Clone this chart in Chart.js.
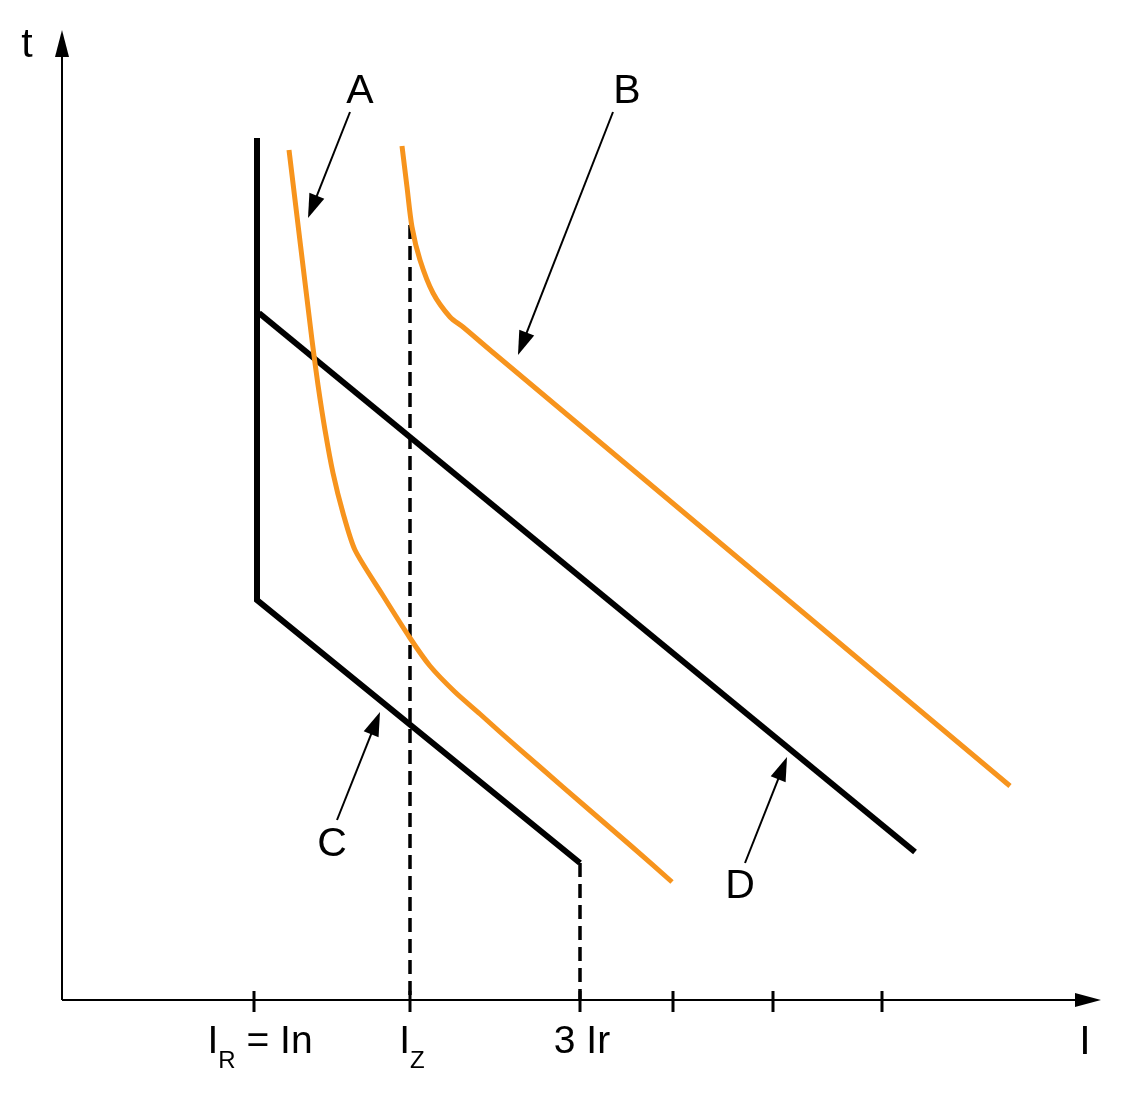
<!DOCTYPE html>
<html>
<head>
<meta charset="UTF-8">
<title>Tripping curves</title>
<script src="https://cdn.jsdelivr.net/npm/chart.js"></script>
<style>
  html, body { margin: 0; padding: 0; background: #fff; }
  #wrap { width: 1122px; height: 1104px; }
</style>
</head>
<body>
<div id="wrap"><canvas id="chart" width="1122" height="1104"></canvas></div>
<script>
// values (x = current, y = time, arbitrary units)
var curveA = [[227,850],[250,660],[256,615],[263,570],[271,527],[281,487],[293,450],[320,406],[348,362],[368,334],[393,308],[418,286],[438,268],[478,233],[524,193],[568,155],[610,118]];
var curveB = [[340,854],[345,813],[350,773],[358,740],[371,707],[388,683],[401,673],[428,650],[558,541],[688,432],[818,323],[948,214]];
var curveC = [[195,862],[195,400],[518,137]];
var curveD = [[197,687],[853,148]];
var dashIz = [[348,775],[348,0]];
var dash3Ir = [[518,137],[518,0]];

var tickValues = [192, 348, 518, 611, 711, 820];
var tickLabels = [
  [['I'], ['R', 'sub'], [' = In']],
  [['I'], ['Z', 'sub']],
  [['3 Ir']],
  [], [], []
];

// annotation letters: label position, arrow start, arrow tip
var noteLabels = ['A', 'B', 'C', 'D'];
var notePos   = [[298,910],[565,910],[270,157],[678,115]];
var noteFrom  = [[288,888],[551,888],[275,180],[683,137]];
var noteTo    = [[246,782],[456,645],[318,288],[725,243]];

var xMax = 1038, yMax = 970;
var orange = '#f7941d';

function pts(arr) {
  return arr.map(function (p) { return { x: p[0], y: p[1] }; });
}

function arrowHead(ctx, from, to, len, half) {
  var dx = to[0] - from[0], dy = to[1] - from[1];
  var d = Math.sqrt(dx * dx + dy * dy);
  var ux = dx / d, uy = dy / d;
  var bx = to[0] - ux * len, by = to[1] - uy * len;
  ctx.beginPath();
  ctx.moveTo(to[0], to[1]);
  ctx.lineTo(bx - uy * half, by + ux * half);
  ctx.lineTo(bx + uy * half, by - ux * half);
  ctx.closePath();
  ctx.fill();
}

var drawing = {
  id: 'drawing',
  beforeDatasetsDraw: function (chart) {
    var ctx = chart.ctx, sx = chart.scales.x, sy = chart.scales.y;
    var px = function (p) { return [sx.getPixelForValue(p[0]), sy.getPixelForValue(p[1])]; };
    var o = px([0, 0]), xe = px([xMax, 0]), ye = px([0, yMax]);
    ctx.save();
    ctx.strokeStyle = '#000';
    ctx.fillStyle = '#000';
    // axes
    ctx.lineWidth = 2;
    ctx.beginPath();
    ctx.moveTo(o[0], o[1]); ctx.lineTo(xe[0] - 20, xe[1]);
    ctx.moveTo(o[0], o[1]); ctx.lineTo(ye[0], ye[1] + 20);
    ctx.stroke();
    arrowHead(ctx, o, [xe[0] + 1, xe[1]], 26, 7);
    arrowHead(ctx, o, ye, 27, 7);
    // ticks
    ctx.lineWidth = 3;
    tickValues.forEach(function (v) {
      var x = sx.getPixelForValue(v);
      ctx.beginPath();
      ctx.moveTo(x, o[1] - 9); ctx.lineTo(x, o[1] + 12);
      ctx.stroke();
    });
    // tick labels (with subscripts)
    ctx.textBaseline = 'alphabetic';
    ctx.textAlign = 'left';
    tickValues.forEach(function (v, i) {
      var parts = tickLabels[i];
      if (!parts.length) return;
      var widths = parts.map(function (p) {
        ctx.font = (p[1] === 'sub' ? '24px' : '39px') + ' "Liberation Sans", Arial, sans-serif';
        return ctx.measureText(p[0]).width;
      });
      var total = widths.reduce(function (a, b) { return a + b; }, 0);
      var x = sx.getPixelForValue(v) - total / 2 + (i === 0 ? 6 : 2);
      parts.forEach(function (p, j) {
        var sub = p[1] === 'sub';
        ctx.font = (sub ? '24px' : '39px') + ' "Liberation Sans", Arial, sans-serif';
        ctx.fillText(p[0], x, o[1] + (sub ? 68 : 53));
        x += widths[j];
      });
    });
    // axis names
    ctx.font = '41px "Liberation Sans", Arial, sans-serif';
    ctx.textAlign = 'center';
    ctx.fillText('t', ye[0] - 35, ye[1] + 27);
    ctx.fillText('I', xe[0] - 15, o[1] + 54);
    // annotations
    ctx.lineWidth = 2;
    noteLabels.forEach(function (lab, i) {
      var a = px(noteFrom[i]), b = px(noteTo[i]), c = px(notePos[i]);
      ctx.beginPath();
      ctx.moveTo(a[0], a[1]);
      var dx = b[0] - a[0], dy = b[1] - a[1], d = Math.sqrt(dx * dx + dy * dy);
      ctx.lineTo(b[0] - dx / d * 18, b[1] - dy / d * 18);
      ctx.stroke();
      arrowHead(ctx, a, b, 24, 8);
      ctx.textBaseline = 'middle';
      ctx.fillText(lab, c[0], c[1] + 2);
    });
    ctx.restore();
  }
};

new Chart(document.getElementById('chart'), {
  type: 'scatter',
  data: {
    datasets: [
      { label: 'A', data: pts(curveA), showLine: true, borderColor: orange, borderWidth: 5, pointRadius: 0, tension: 0.25, clip: false },
      { label: 'B', data: pts(curveB), showLine: true, borderColor: orange, borderWidth: 5, pointRadius: 0, tension: 0.3, clip: false },
      { label: 'C', data: pts(curveC), showLine: true, borderColor: '#000', borderWidth: 6, pointRadius: 0, tension: 0, clip: false },
      { label: 'D', data: pts(curveD), showLine: true, borderColor: '#000', borderWidth: 6, pointRadius: 0, tension: 0, clip: false },
      { label: 'Iz', data: pts(dashIz), showLine: true, borderColor: '#000', borderWidth: 3.5, borderDash: [14, 7], pointRadius: 0, clip: false, order: 5 },
      { label: '3Ir', data: pts(dash3Ir), showLine: true, borderColor: '#000', borderWidth: 3.5, borderDash: [14, 7], pointRadius: 0, clip: false, order: 5 }
    ]
  },
  options: {
    responsive: false,
    animation: false,
    devicePixelRatio: 1,
    layout: { padding: { left: 62, right: 22, top: 30, bottom: 104 } },
    plugins: { legend: { display: false }, tooltip: { enabled: false } },
    scales: {
      x: { type: 'linear', min: 0, max: xMax, display: false },
      y: { type: 'linear', min: 0, max: yMax, display: false }
    }
  },
  plugins: [drawing]
});
</script>
</body>
</html>
